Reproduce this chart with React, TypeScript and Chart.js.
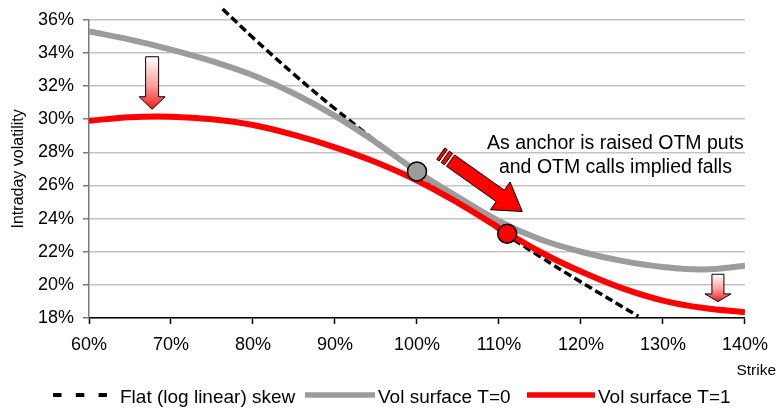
import React, { useEffect, useRef } from "react";
import { Chart, registerables } from "chart.js";

Chart.register(...registerables);

// ---- data ----
const strikes = [60, 65, 70, 75, 80, 85, 90, 95, 100, 105, 110, 115, 120, 125, 130, 135, 140];
const volSurfaceT0 = [35.3, 34.8, 34.2, 33.5, 32.65, 31.55, 30.2, 28.6, 26.85, 25.3, 23.85, 22.75, 22.0, 21.45, 21.08, 20.93, 21.15];
const volSurfaceT1 = [29.9, 30.12, 30.15, 30.0, 29.65, 29.05, 28.3, 27.4, 26.3, 24.95, 23.45, 22.0, 20.8, 19.8, 19.05, 18.6, 18.35];
const flatSkewStrikes = [76.3, 80, 85, 90, 95, 100, 105, 110, 115, 120, 127];
const flatSkewVol = [36.65, 34.92, 32.71, 30.63, 28.67, 26.8, 25.02, 23.33, 21.71, 20.17, 18.1];
const anchorStrikes = [100, 111];
const anchorVols = [26.85, 23.09];
const xTicks = [60, 70, 80, 90, 100, 110, 120, 130, 140];
const yTicks = [18, 20, 22, 24, 26, 28, 30, 32, 34, 36];
const seriesLabels = ["Flat (log linear) skew", "Vol surface T=0", "Vol surface T=1"];
const noteLines = ["As anchor is raised OTM puts", "and OTM calls implied falls"];

const FONT = "'Liberation Sans', Arial, Helvetica, sans-serif";
const GREY = "#9c9c9c";
const RED = "#ff0000";

type P = { x: number; y: number };

function drawArrow(
  ctx: CanvasRenderingContext2D,
  tail: P,
  tip: P,
  shaftW: number,
  headW: number,
  headL: number,
  fill: string | CanvasGradient,
  stripes: [number, number][] = [],
  shaftStart = 0
) {
  const dx = tip.x - tail.x;
  const dy = tip.y - tail.y;
  const len = Math.hypot(dx, dy);
  const ux = dx / len, uy = dy / len;
  const vx = -uy, vy = ux;
  const pt = (u: number, v: number): [number, number] => [tail.x + ux * u + vx * v, tail.y + uy * u + vy * v];
  ctx.save();
  ctx.fillStyle = fill;
  ctx.strokeStyle = "#000";
  ctx.lineWidth = 1;
  ctx.lineJoin = "miter";
  const hs = shaftW / 2, hh = headW / 2, hb = len - headL;
  const poly = [
    pt(shaftStart, -hs), pt(hb, -hs), pt(hb, -hh), pt(len, 0), pt(hb, hh), pt(hb, hs), pt(shaftStart, hs),
  ];
  ctx.beginPath();
  poly.forEach(([x, y], i) => (i ? ctx.lineTo(x, y) : ctx.moveTo(x, y)));
  ctx.closePath();
  ctx.fill();
  ctx.stroke();
  for (const [a, b] of stripes) {
    const r = [pt(a, -hs), pt(b, -hs), pt(b, hs), pt(a, hs)];
    ctx.beginPath();
    r.forEach(([x, y], i) => (i ? ctx.lineTo(x, y) : ctx.moveTo(x, y)));
    ctx.closePath();
    ctx.fill();
    ctx.stroke();
  }
  ctx.restore();
}

const decorPlugin = {
  id: "decor",
  afterDatasetsDraw(chart: any) {
    const ctx: CanvasRenderingContext2D = chart.ctx;
    const xs = chart.scales.x, ys = chart.scales.y;
    const P = (x: number, y: number): P => ({ x: xs.getPixelForValue(x), y: ys.getPixelForValue(y) });

    // big striped arrow
    drawArrow(ctx, P(102.9, 27.92), P(112.84, 24.43), 14, 34, 27, RED, [[0, 3], [5.5, 9.5]], 12);

    // small gradient down arrows
    const downArrow = (x: number, yTop: number, yTip: number, sw: number, hw: number, hl: number) => {
      const a = P(x, yTop), b = P(x, yTip);
      const g = ctx.createLinearGradient(a.x, a.y, b.x, b.y);
      g.addColorStop(0, "#ffffff");
      g.addColorStop(0.55, "#ff9c9c");
      g.addColorStop(1, "#ee1c1c");
      drawArrow(ctx, a, b, sw, hw, hl, g);
    };
    downArrow(67.7, 33.77, 30.6, 13, 26, 12.5);
    downArrow(136.7, 20.64, 18.99, 12, 26, 7.7);
  },
  afterDraw(chart: any) {
    const ctx: CanvasRenderingContext2D = chart.ctx;
    const xs = chart.scales.x, ys = chart.scales.y;
    ctx.save();
    ctx.fillStyle = "#000";

    // note text
    ctx.font = `19.5px ${FONT}`;
    ctx.textAlign = "center";
    ctx.textBaseline = "alphabetic";
    const nx = xs.getPixelForValue(124.2);
    const ny = ys.getPixelForValue(28.18);
    noteLines.forEach((t, i) => ctx.fillText(t, nx, ny + i * 23.5));

    // x-axis title
    ctx.font = `15.5px ${FONT}`;
    ctx.textAlign = "right";
    ctx.fillText("Strike", chart.width - 2, 375);

    // legend
    const items = [
      { ds: 0, x0: 53, x1: 107, tx: 120 },
      { ds: 1, x0: 305, x1: 375, tx: 378 },
      { ds: 2, x0: 527, x1: 595, tx: 598 },
    ];
    const ly = 395;
    ctx.font = `19px ${FONT}`;
    ctx.textAlign = "left";
    for (const it of items) {
      const ds = chart.data.datasets[it.ds];
      ctx.save();
      ctx.strokeStyle = ds.borderColor;
      ctx.lineWidth = it.ds === 0 ? 4 : 5.5;
      ctx.lineCap = "butt";
      ctx.setLineDash(it.ds === 0 ? [8.5, 14.3] : []);
      ctx.beginPath();
      ctx.moveTo(it.x0, ly);
      ctx.lineTo(it.x1, ly);
      ctx.stroke();
      ctx.restore();
      ctx.fillText(ds.label, it.tx, 403);
    }
    ctx.restore();
  },
};

export default function App() {
  const ref = useRef<HTMLCanvasElement>(null);
  useEffect(() => {
    const canvas = ref.current!;
    const toXY = (xa: number[], ya: number[]) => xa.map((x, i) => ({ x, y: ya[i] }));
    const chart = new Chart(canvas, {
      type: "line",
      data: {
        datasets: [
          {
            label: seriesLabels[0],
            data: toXY(flatSkewStrikes, flatSkewVol),
            borderColor: "#000",
            borderWidth: 3.5,
            borderDash: [8, 4],
            pointRadius: 0,
            tension: 0.4,
            clip: false,
            order: 3,
          } as any,
          {
            label: seriesLabels[1],
            data: toXY(strikes, volSurfaceT0),
            borderColor: GREY,
            borderWidth: 6,
            pointRadius: 0,
            tension: 0.4,
            order: 2,
          },
          {
            label: seriesLabels[2],
            data: toXY(strikes, volSurfaceT1),
            borderColor: RED,
            borderWidth: 6,
            pointRadius: 0,
            tension: 0.4,
            order: 1,
          },
          {
            label: "anchor T=0",
            data: [{ x: anchorStrikes[0], y: anchorVols[0] }],
            showLine: false,
            pointRadius: 9.5,
            pointBackgroundColor: GREY,
            pointBorderColor: "#000",
            pointBorderWidth: 1.5,
            order: 0,
          },
          {
            label: "anchor T=1",
            data: [{ x: anchorStrikes[1], y: anchorVols[1] }],
            showLine: false,
            pointRadius: 9.5,
            pointBackgroundColor: RED,
            pointBorderColor: "#000",
            pointBorderWidth: 1.5,
            order: 0,
          },
        ],
      },
      options: {
        responsive: false,
        animation: false,
        devicePixelRatio: 1,
        layout: { padding: { top: 18, right: 26, left: 0, bottom: 0 } },
        plugins: { legend: { display: false }, tooltip: { enabled: false } },
        scales: {
          x: {
            type: "linear",
            min: xTicks[0],
            max: xTicks[xTicks.length - 1],
            afterBuildTicks: (s: any) => {
              s.ticks = xTicks.map((v) => ({ value: v }));
            },
            ticks: {
              callback: (v: any) => `${v}%`,
              font: { family: FONT, size: 18 },
              color: "#000",
              padding: 10,
              maxRotation: 0,
              autoSkip: false,
            },
            grid: { drawOnChartArea: false, drawTicks: true, tickLength: 6, tickColor: "#000", tickWidth: 1.5 },
            border: { color: "#000", width: 1.5 },
            afterFit: (s: any) => {
              s.height = 92;
            },
          },
          y: {
            min: yTicks[0],
            max: yTicks[yTicks.length - 1],
            afterBuildTicks: (s: any) => {
              s.ticks = yTicks.map((v) => ({ value: v }));
            },
            ticks: {
              callback: (v: any) => `${v}%`,
              font: { family: FONT, size: 18 },
              color: "#000",
              padding: 9,
            },
            grid: { color: "#c4c4c4", lineWidth: 1.5, tickLength: 6, tickColor: "#7a7a7a", drawTicks: true },
            border: { color: "#7a7a7a", width: 1.5 },
            title: {
              display: true,
              text: "Intraday volatility",
              font: { family: FONT, size: 16 },
              color: "#000",
              padding: { top: 9, bottom: 0 },
            },
            afterFit: (s: any) => {
              s.width = 89;
            },
          },
        },
      },
      plugins: [decorPlugin],
    });
    return () => chart.destroy();
  }, []);

  return (
    <div style={{ position: "absolute", left: 0, top: 0, width: 778, height: 410, background: "#fff" }}>
      <canvas ref={ref} width={778} height={410} style={{ display: "block", width: 778, height: 410 }} />
    </div>
  );
}
